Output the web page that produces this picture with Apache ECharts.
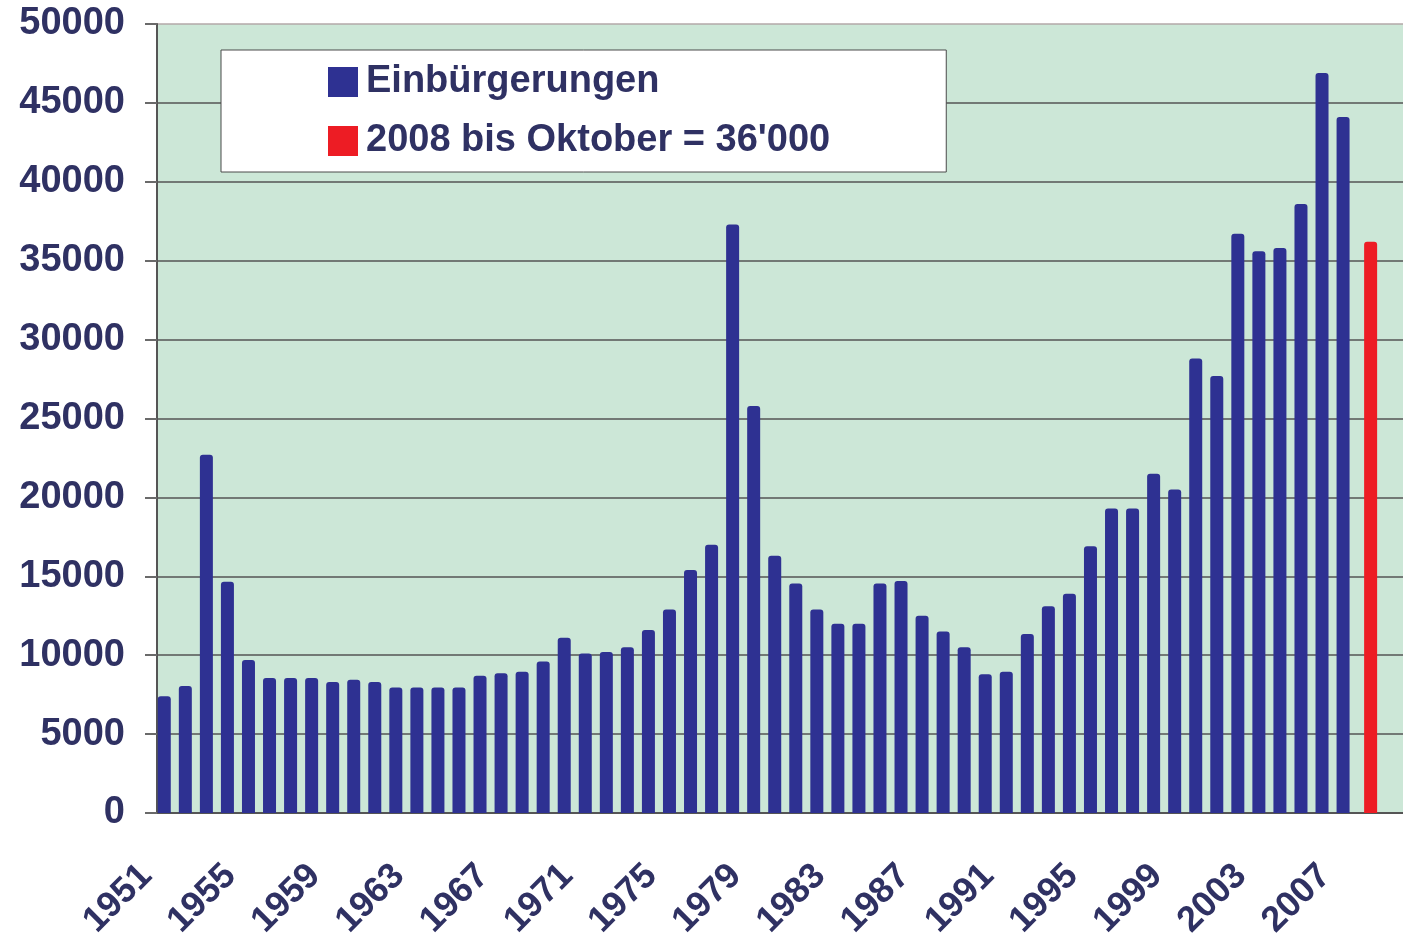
<!DOCTYPE html>
<html>
<head>
<meta charset="utf-8">
<script src="https://cdn.jsdelivr.net/npm/echarts@6/dist/echarts.min.js"></script>
<style>
  html, body { margin: 0; padding: 0; background: #fff; }
  #chart { width: 1403px; height: 937px; }
</style>
</head>
<body>
<div id="chart"></div>
<script>
// years on the axis (the last two are empty slots, the plot runs off the right edge)
var years = ['1951','1952','1953','1954','1955','1956','1957','1958','1959','1960',
  '1961','1962','1963','1964','1965','1966','1967','1968','1969','1970',
  '1971','1972','1973','1974','1975','1976','1977','1978','1979','1980',
  '1981','1982','1983','1984','1985','1986','1987','1988','1989','1990',
  '1991','1992','1993','1994','1995','1996','1997','1998','1999','2000',
  '2001','2002','2003','2004','2005','2006','2007','2008','2009','2010'];

// Einbürgerungen per year, 1951 - 2007
var einbuergerungen = [7400, 8050, 22700, 14650, 9700, 8550, 8550, 8550, 8300, 8450,
  8300, 7950, 7950, 7950, 7950, 8700, 8850, 8950, 9600, 11100,
  10100, 10200, 10500, 11600, 12900, 15400, 17000, 37300, 25800, 16300,
  14550, 12900, 12000, 12000, 14550, 14700, 12500, 11500, 10500, 8800,
  8950, 11350, 13100, 13900, 16900, 19300, 19300, 21500, 20500, 28800,
  27700, 36700, 35600, 35800, 38600, 46900, 44100];

// 2008 up to October
var bisOktober = { year: '2008', value: 36200 };

var yTicks = [0, 5000, 10000, 15000, 20000, 25000, 30000, 35000, 40000, 45000, 50000];

var navy = '#2f3163';
var blueData = years.map(function (y, i) {
  return i < einbuergerungen.length ? einbuergerungen[i] : null;
});
var redData = years.map(function (y) {
  return y === bisOktober.year ? bisOktober.value : null;
});

// top grid line is lighter, like a frame
var splitColors = yTicks.map(function (t, i) {
  return i === yTicks.length - 1 ? '#b3a9a9' : '#555555';
});

var chart = echarts.init(document.getElementById('chart'));

chart.setOption({
  animation: false,
  legend: {
    orient: 'vertical',
    left: 221,
    top: 50,
    backgroundColor: '#ffffff',
    borderColor: '#4a4a4a',
    borderWidth: 1,
    padding: [13, 116, 12, 107],
    itemWidth: 30,
    itemHeight: 30,
    itemGap: 21,
    icon: 'rect',
    textStyle: {
      fontFamily: 'Liberation Sans',
      fontWeight: 'bold',
      fontSize: 38,
      color: navy,
      padding: [0, 0, 0, 3]
    },
    data: ['Einbürgerungen', "2008 bis Oktober = 36'000"]
  },
  grid: {
    left: 157,
    top: 24,
    width: 1263,
    bottom: 124,
    outerBoundsMode: 'none',
    show: true,
    backgroundColor: '#cce7d7',
    borderWidth: 0
  },
  xAxis: {
    type: 'category',
    data: years,
    boundaryGap: true,
    axisLine: { lineStyle: { color: '#555555', width: 2 } },
    axisTick: {
      interval: 3,
      length: 12,
      lineStyle: { color: '#8a8a8a', width: 2 }
    },
    axisLabel: {
      interval: 3,
      rotate: 45,
      margin: 36,
      padding: [0, 30, 0, 0],
      fontFamily: 'Liberation Sans',
      fontWeight: 'bold',
      fontSize: 36,
      color: navy
    },
    splitLine: { show: false }
  },
  yAxis: {
    type: 'value',
    min: 0,
    max: 50000,
    interval: 5000,
    axisLine: { show: true, lineStyle: { color: '#555555', width: 2 } },
    axisTick: {
      show: true,
      length: 12,
      lineStyle: { color: '#6a6a6a', width: 2 }
    },
    axisLabel: {
      margin: 32,
      fontFamily: 'Liberation Sans',
      fontWeight: 'bold',
      fontSize: 38,
      color: navy,
      formatter: function (v) { return String(v); }
    },
    splitLine: { lineStyle: { color: splitColors, width: 1.5 } }
  },
  series: [
    {
      name: 'Einbürgerungen',
      type: 'bar',
      data: blueData,
      barWidth: 13,
      barGap: '-50%',
      itemStyle: { color: '#2e3192', borderRadius: [3, 3, 0, 0] }
    },
    {
      name: "2008 bis Oktober = 36'000",
      type: 'bar',
      data: redData,
      barWidth: 13,
      itemStyle: { color: '#ed1c24', borderRadius: [3, 3, 0, 0] }
    }
  ]
});
</script>
</body>
</html>
